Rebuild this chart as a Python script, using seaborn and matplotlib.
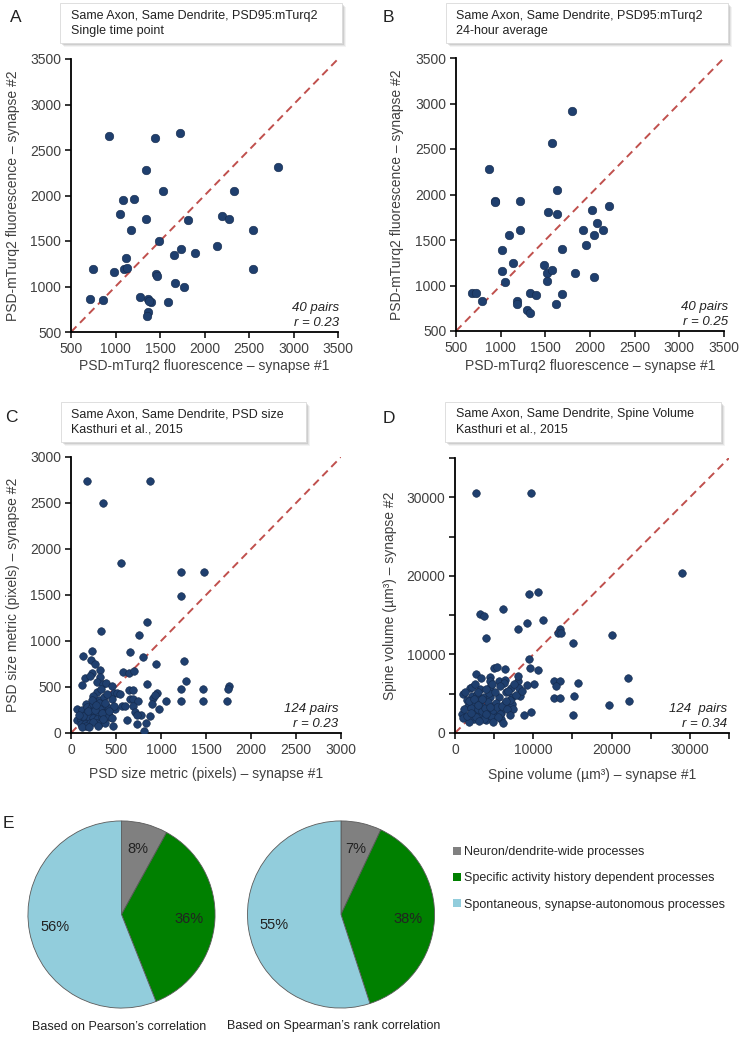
import numpy as np
import pandas as pd
import matplotlib
matplotlib.use("Agg")
import matplotlib.pyplot as plt
import seaborn as sns
from matplotlib.patches import Rectangle, Patch
from matplotlib.ticker import MultipleLocator, FixedLocator
from matplotlib import font_manager

# ---- data ----
# Panel A: single time point
a_syn1 = [930, 1440, 1730, 2830, 1340, 1530, 2335, 1085, 1205, 1045, 1340, 1815, 2200, 2270,
          1175, 2550, 1490, 2140, 1740, 1895, 1655, 1115, 750, 1095, 1130, 2550, 980, 1455,
          1470, 1670, 1765, 1275, 710, 865, 1370, 1395, 1590, 1370, 1355, 1380]
a_syn2 = [2650, 2630, 2690, 2310, 2285, 2045, 2045, 1950, 1960, 1795, 1740, 1730, 1780, 1745,
          1625, 1625, 1500, 1440, 1410, 1370, 1350, 1310, 1195, 1190, 1205, 1190, 1160, 1140,
          1110, 1040, 1000, 890, 860, 850, 860, 835, 835, 725, 680, 845]

# Panel B: 24-hour average
b_syn1 = [1800, 1580, 865, 1625, 935, 940, 1220, 1535, 1630, 2025, 2215, 2075, 1925, 2140,
          2040, 1220, 1090, 1950, 1010, 1685, 1140, 1490, 1515, 1575, 1835, 1010, 2040, 1520,
          1045, 680, 725, 1330, 1390, 1685, 790, 1185, 1185, 1620, 1300, 1330]
b_syn2 = [2915, 2565, 2285, 2050, 1925, 1920, 1925, 1810, 1785, 1825, 1870, 1690, 1605, 1610,
          1555, 1605, 1555, 1450, 1395, 1400, 1250, 1225, 1140, 1170, 1140, 1155, 1090, 1045,
          1035, 920, 920, 920, 895, 905, 835, 835, 795, 800, 735, 695]

# Panel C: PSD size (pixels)
c_syn1 = [180, 880, 360, 555, 1220, 1475, 1220, 840, 760, 335,
          237, 650, 135, 805, 220, 265, 1255, 945, 325, 233, 577, 644, 695, 152, 211, 322,
          1277, 122, 292, 355, 389, 844, 1754, 1739, 1217, 1469, 459, 285, 333, 477, 514,
          647, 692, 548, 951, 914, 929, 651, 692, 740, 1051, 1217, 1469, 1735, 451, 899,
          974, 566, 603, 684, 710, 773, 733, 877, 618, 733, 829, 810, 462, 433,
          67, 118, 166, 181, 218, 248, 259, 307, 314, 366, 385, 425, 492, 481, 174, 218,
          263, 292, 322, 359, 411, 63, 107, 155, 204, 240, 292, 340, 396, 107, 159, 211,
          285, 307, 374, 166, 248, 340, 248, 363, 396, 229,
          130, 190, 270, 350, 420, 120, 200, 300, 380, 450, 90, 280]
c_syn2 = [2740, 2740, 2495, 1850, 1750, 1750, 1485, 1205, 1065, 1110,
          890, 880, 833, 825, 790, 755, 780, 752, 680, 647, 662, 655, 673, 596, 622, 611,
          567, 527, 553, 538, 545, 534, 516, 473, 473, 473, 509, 443, 480, 436, 436,
          462, 462, 429, 436, 382, 411, 374, 374, 353, 353, 353, 353, 353, 374, 316,
          262, 291, 291, 295, 225, 196, 196, 185, 138, 98, 109, 18, 73, 175,
          258, 255, 313, 284, 276, 313, 356, 364, 327, 276, 298, 273, 265, 298, 225, 225,
          218, 225, 265, 218, 211, 145, 145, 145, 175, 167, 156, 175, 182, 102, 102, 109,
          109, 102, 109, 73, 120, 218, 400, 393, 429, 356,
          190, 240, 250, 150, 240, 60, 60, 80, 330, 160, 200, 300]

# Panel D: spine volume (um^3)
d_syn1 = [2670, 9740, 29000,
          9440, 10600, 3230, 3660, 6120, 8100, 9180, 11250, 13400, 13150, 13490, 3920, 15130,
          20000, 9440, 4960, 5390, 6420, 9570, 10560, 2630, 3320, 4440, 4440, 5600, 6420,
          8100, 10090, 12590, 13400, 12890, 15650, 22110, 1940, 3150, 4530, 6210, 7110, 8190,
          990, 2110, 2800, 3660, 4530, 5560, 6510, 7240, 8320, 12630, 13400, 15170, 22280,
          19650, 1720, 2460, 3320, 4310, 5260, 6340, 7330, 7460, 900, 2240, 3230, 4090, 5090,
          5900, 1030, 2370, 4010, 5820, 6160, 1770, 8750, 9740, 15130, 3660, 4660, 3060, 1510,
          4350, 8060,
          1200, 1500, 2000, 2700, 2900, 3500, 3800, 4200, 4800, 5400, 5700, 6000, 6700, 7000,
          1300, 2200, 2600, 3000, 3500, 3900, 4700, 5100, 5800, 6800, 7600, 1800, 2400, 2900,
          4000, 4500, 5500, 6500, 7000, 7800, 8500, 9200, 2000, 3100, 4900]
d_syn2 = [30500, 30500, 20400,
          17700, 18000, 15190, 14935, 15790, 13280, 14000, 14340, 13280, 12720, 12720, 12040, 11490,
          12470, 9400, 8210, 8340, 8130, 8210, 7960, 7450, 6980, 7150, 6680, 6680, 6770,
          6680, 6300, 6640, 6640, 5960, 6340, 7020, 5740, 5660, 5870, 6380, 5700, 5700,
          4980, 4680, 4980, 4600, 4600, 4550, 5190, 4550, 4680, 4430, 4430, 4720, 4040,
          3570, 3490, 3530, 3400, 3570, 3830, 3830, 3740, 3110, 2470, 2770, 2430, 2720, 2260,
          2600, 1960, 1790, 1620, 1790, 1280, 1450, 2340, 2640, 2260, 1790, 2130, 4040, 4260,
          5110, 7230,
          3000, 2200, 3200, 2000, 3000, 2800, 3200, 3900, 2900, 3300, 2400, 3400, 3000, 4200,
          5200, 5900, 6300, 5200, 4300, 5600, 6200, 5200, 6000, 5300, 6200, 4100, 4300, 3600,
          2400, 3300, 2000, 4100, 2300, 4900, 5300, 6100, 2600, 1500, 1400]

# Panel E: pie shares (%)
pie_labels = ["Neuron/dendrite-wide processes",
              "Specific activity history dependent processes",
              "Spontaneous, synapse-autonomous processes"]
pearson_pct = [8, 36, 56]
spearman_pct = [7, 38, 55]
pie_colors = ["#808080", "#008000", "#92cddc"]

# ---- style ----
sns.set_style("ticks")
plt.rcParams["font.family"] = ["Liberation Sans", "DejaVu Sans"]
names = {f.name for f in font_manager.fontManager.ttflist}
NARROW = ["Liberation Sans Narrow", "Liberation Sans", "DejaVu Sans"] if "Liberation Sans Narrow" in names \
    else ["Liberation Sans", "DejaVu Sans"]

DOT = "#1f3f6e"
EDGE = "#14294a"
DIAG = "#c0504d"
TXT = "#404040"

W, H = 741, 1037
fig = plt.figure(figsize=(W / 100, H / 100), dpi=100)


def box(x0, y0, x1, y1):
    return [x0 / W, 1 - y1 / H, (x1 - x0) / W, (y1 - y0) / H]


def title_box(x0, y0, x1, y1, lines, tx):
    for k, a in [(4, 0.08), (3, 0.12), (2, 0.18)]:
        fig.patches.append(Rectangle(((x0 + k) / W, 1 - (y1 + k) / H), (x1 - x0) / W, (y1 - y0) / H,
                                     transform=fig.transFigure, facecolor="#707070", alpha=a,
                                     edgecolor="none"))
    fig.patches.append(Rectangle((x0 / W, 1 - y1 / H), (x1 - x0) / W, (y1 - y0) / H,
                                 transform=fig.transFigure, facecolor="white",
                                 edgecolor="#d9d9d9", lw=0.6))
    for i, line in enumerate(lines):
        fig.text(tx / W, 1 - (y0 + 12.5 + 15.5 * i) / H, line, fontsize=9, color="#222222",
                 ha="left", va="center")


def scatter_panel(rect, x, y, lim, step, s, xlab, ylab, ylab_x, xlab_y, note, note_x, fam=None):
    ax = fig.add_axes(box(*rect))
    df = pd.DataFrame({"syn1": x, "syn2": y})
    sns.scatterplot(data=df, x="syn1", y="syn2", ax=ax, color=DOT, s=s, edgecolor=EDGE,
                    linewidth=0.4, zorder=3)
    ax.plot(lim, lim, ls=(0, (4, 2.6)), color=DIAG, lw=1.4, zorder=2)
    ax.set_xlim(lim)
    ax.set_ylim(lim)
    sns.despine(ax=ax)
    for sp in ["left", "bottom"]:
        ax.spines[sp].set_linewidth(1.3)
        ax.spines[sp].set_color("black")
    ax.tick_params(direction="out", length=4, width=1.1, color="black", labelsize=10,
                   labelcolor=TXT, pad=3)
    if step is not None:
        ax.xaxis.set_major_locator(MultipleLocator(step))
        ax.yaxis.set_major_locator(MultipleLocator(step))
    kw = dict(fontsize=10, color=TXT)
    if fam:
        kw["family"] = fam
    ax.set_xlabel(xlab, **kw)
    ax.set_ylabel(ylab, **kw)
    ax.yaxis.set_label_coords(ylab_x, 0.5)
    ax.xaxis.set_label_coords(0.5, xlab_y)
    for j, line in enumerate(note):
        ax.text(note_x, [0.088, 0.033][j], line, transform=ax.transAxes, ha="right",
                va="center", fontsize=9.5, style="italic", color="#222222")
    return ax


# Panel A
scatter_panel((71, 59, 338, 332), a_syn1, a_syn2, (500, 3500), 500, 38,
              "PSD-mTurq2 fluorescence \u2013 synapse #1", "PSD-mTurq2 fluorescence \u2013 synapse #2",
              -0.19, -0.1, ["40 pairs", "r = 0.23"], 1.004)
# Panel B
scatter_panel((456, 58, 724, 331), b_syn1, b_syn2, (500, 3500), 500, 38,
              "PSD-mTurq2 fluorescence \u2013 synapse #1", "PSD-mTurq2 fluorescence \u2013 synapse #2",
              -0.195, -0.103, ["40 pairs", "r = 0.25"], 1.015)
# Panel C
scatter_panel((71, 457, 341, 733), c_syn1, c_syn2, (0, 3000), 500, 30,
              "PSD size metric (pixels) \u2013 synapse #1", "PSD size metric (pixels) \u2013 synapse #2",
              -0.19, -0.123, ["124 pairs", "r = 0.23"], 0.989, fam=NARROW)
# Panel D
axd = scatter_panel((455, 458, 729, 733), d_syn1, d_syn2, (0, 35000), None, 30,
                    "Spine volume (\u00b5m\u00b3) \u2013 synapse #1", "Spine volume (\u00b5m\u00b3) \u2013 synapse #2",
                    -0.212, -0.126, ["124  pairs", "r = 0.34"], 0.993, fam=NARROW)
for axis in [axd.xaxis, axd.yaxis]:
    axis.set_major_locator(FixedLocator([0, 10000, 20000, 30000]))
    axis.set_minor_locator(MultipleLocator(5000))
axd.tick_params(which="minor", direction="out", length=4, width=1.1, color="black")

# title boxes and panel letters
title_box(60, 3, 342, 43, ["Same Axon, Same Dendrite, PSD95:mTurq2", "Single time point"], 71)
title_box(446, 3, 728, 43, ["Same Axon, Same Dendrite, PSD95:mTurq2", "24-hour average"], 456)
title_box(61, 402, 306, 442, ["Same Axon, Same Dendrite, PSD size", "Kasthuri et al., 2015"], 71)
title_box(445, 402, 721, 442, ["Same Axon, Same Dendrite, Spine Volume", "Kasthuri et al., 2015"], 456)
for letter, lx, ly in [("A", 16, 17.5), ("B", 388, 17.5), ("C", 11, 417), ("D", 388.5, 418.5),
                       ("E", 8, 823)]:
    fig.text(lx / W, 1 - ly / H, letter, fontsize=12.5, color="#222222", ha="center", va="center")

# Panel E: pies
for rect, vals, cap, cx in [((27, 820, 216, 1009), pearson_pct, "Based on Pearson\u2019s correlation", 119),
                            ((246.5, 820, 435.5, 1009), spearman_pct,
                             "Based on Spearman\u2019s rank correlation", 334)]:
    ax = fig.add_axes(box(*rect))
    ax.pie(vals, colors=pie_colors, startangle=90, counterclock=False, autopct="%1.0f%%",
           pctdistance=0.72, wedgeprops=dict(edgecolor="#5a5a5a", linewidth=0.6),
           textprops=dict(fontsize=10.5, color="#222222", family=NARROW))
    ax.set_xlim(-1.01, 1.01)
    ax.set_ylim(-1.01, 1.01)
    fig.text(cx / W, 1 - 1026.5 / H, cap, fontsize=9, color="#222222", ha="center",
             va="center", family=NARROW)

handles = [Patch(facecolor=c, edgecolor="none") for c in pie_colors]
fig.legend(handles, pie_labels, loc="upper left", bbox_to_anchor=(453 / W, 1 - 846 / H),
           frameon=False, handlelength=0.6, handleheight=0.6,
           handletextpad=0.3, labelspacing=1.15, borderpad=0, borderaxespad=0,
           prop=dict(family=NARROW, size=9))

fig.savefig("out.png", dpi=100)
